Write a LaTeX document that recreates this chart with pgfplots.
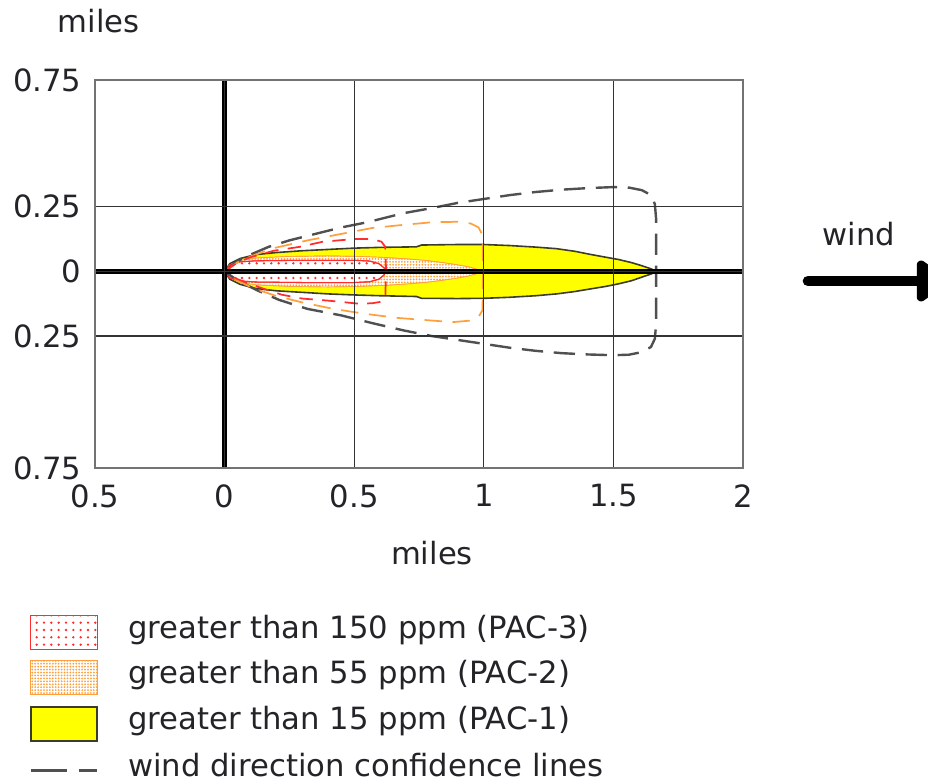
\documentclass[border=0pt]{standalone}
\usepackage{pgfplots}
\pgfplotsset{compat=1.18}
\usepackage{fontspec}
\setmainfont{DejaVu Sans}
\usetikzlibrary{patterns.meta,arrows.meta}

\definecolor{pacred}{RGB}{255,45,45}
\definecolor{pacorange}{RGB}{255,160,60}
\definecolor{confgray}{RGB}{80,80,80}
\definecolor{pacyellow}{RGB}{255,255,0}
\definecolor{outl}{RGB}{60,60,45}
\definecolor{txt}{RGB}{35,35,40}

\newcommand{\bigfont}{\fontsize{23}{27}\selectfont}

\pgfplotsset{
  pacthree/.style={draw=pacred, line width=0.9pt, fill=white,
    postaction={pattern={Dots[distance=5.5pt,radius=0.95pt]}, pattern color=pacred}},
  pactwo/.style={draw=pacorange, line width=0.9pt, fill=white,
    postaction={pattern={Dots[distance=2.2pt,radius=0.75pt]}, pattern color=pacorange}},
  pacone/.style={draw=outl, line width=1.2pt, fill=pacyellow},
  boxlegend/.style={legend image code/.code={
      \draw[##1] (0pt,-16.5pt) rectangle (50pt,9pt);
      \path (72pt,0pt);}},
  linelegend/.style={legend image code/.code={
      \draw[##1] (0pt,-3.75pt) -- (50pt,-3.75pt);
      \path (0pt,-16.5pt) (72pt,9pt);}},
}

\begin{document}
\begin{tikzpicture}
\useasboundingbox (0pt,0pt) rectangle (696pt,-588pt);
\begin{axis}[
  at={(71.25pt,-351pt)}, anchor=south west,
  scale only axis, width=486pt, height=291pt,
  xmin=-0.5, xmax=2, ymin=-0.76, ymax=0.74,
  xtick={-0.5,0,0.5,1,1.5,2},
  xticklabels={0.5,0,0.5,1,1.5,2},
  ytick={-0.76,-0.25,0,0.25,0.74},
  yticklabels={0.75,0.25,0,0.25,0.75},
  major tick length=0pt,
  grid=major,
  grid style={line width=0.9pt, color=black!80},
  axis line style={line width=1.2pt, color=black!55},
  axis on top,
  tick label style={font=\bigfont, text=txt},
  xticklabel style={anchor=north, inner sep=0pt, yshift=-12pt},
  yticklabel style={anchor=east, inner sep=0pt, xshift=-10pt},
  xlabel={miles}, ylabel={miles},
  every axis x label/.style={at={(axis description cs:0.52,-0.219)}, anchor=center, font=\bigfont, text=txt},
  every axis y label/.style={at={(axis description cs:0.0054,1.152)}, anchor=center, font=\bigfont, text=txt},
  legend style={at={(axis description cs:-0.1019,-0.3785)}, anchor=north west,
    draw=none, fill=none, inner sep=0pt, outer sep=0pt, row sep=7.6pt,
    font=\bigfont, text=txt, nodes={inner sep=0pt}},
  legend cell align=left,
]
% legend entries
\addlegendimage{boxlegend, pacthree}
\addlegendentry{greater than 150 ppm (PAC-3)}
\addlegendimage{boxlegend, pactwo}
\addlegendentry{greater than 55 ppm (PAC-2)}
\addlegendimage{boxlegend, pacone, line width=1.6pt}
\addlegendentry{greater than 15 ppm (PAC-1)}
\addlegendimage{linelegend, confgray, line width=2.4pt, dash pattern=on 27pt off 9pt on 13.5pt off 20pt}
\addlegendentry{wind direction confidence lines}

% PAC-1 threat zone
\addplot[pacone, forget plot] coordinates {
(0,0) (0.02,0.03) (0.06,0.05) (0.12,0.065) (0.2,0.073) (0.3,0.08) (0.4,0.085)
(0.5,0.09) (0.6,0.093) (0.74,0.095) (0.76,0.102) (0.9,0.104) (1.0,0.104)
(1.1,0.1) (1.2,0.094) (1.28,0.088) (1.35,0.078) (1.41,0.066) (1.47,0.055)
(1.52,0.046) (1.57,0.034) (1.61,0.022) (1.645,0.01) (1.665,0)
(1.645,-0.01) (1.61,-0.022) (1.57,-0.036) (1.52,-0.048) (1.47,-0.058)
(1.41,-0.068) (1.35,-0.078) (1.28,-0.087) (1.2,-0.094) (1.1,-0.1)
(1.0,-0.104) (0.9,-0.105) (0.76,-0.104) (0.74,-0.097) (0.6,-0.094)
(0.5,-0.091) (0.4,-0.087) (0.3,-0.081) (0.2,-0.075) (0.12,-0.066)
(0.06,-0.05) (0.02,-0.03)
} -- cycle;

% PAC-2 threat zone
\addplot[pactwo, line width=0.5pt, forget plot] coordinates {
(0,0) (0.02,0.025) (0.06,0.042) (0.12,0.052) (0.25,0.058) (0.4,0.06)
(0.52,0.058) (0.62,0.054) (0.71,0.048) (0.78,0.042) (0.835,0.035)
(0.89,0.027) (0.94,0.018) (0.975,0.008) (0.995,0)
(0.975,-0.008) (0.94,-0.018) (0.89,-0.027) (0.835,-0.035) (0.78,-0.042)
(0.71,-0.048) (0.62,-0.054) (0.52,-0.058) (0.4,-0.06) (0.25,-0.058)
(0.12,-0.052) (0.06,-0.042) (0.02,-0.025)
} -- cycle;

% PAC-3 threat zone
\addplot[pacthree, line width=0.8pt, forget plot] coordinates {
(0,0) (0.02,0.025) (0.06,0.037) (0.12,0.041) (0.3,0.043) (0.5,0.043)
(0.56,0.04) (0.595,0.03) (0.615,0.014) (0.623,0)
(0.615,-0.014) (0.595,-0.03) (0.56,-0.04) (0.5,-0.043) (0.3,-0.043)
(0.12,-0.041) (0.06,-0.037) (0.02,-0.025)
} -- cycle;

% confidence lines PAC-1
\addplot[confgray, line width=1.8pt, dash pattern=on 16pt off 8pt, forget plot] coordinates {
(0,0) (0.05,0.04) (0.1,0.065) (0.17,0.095) (0.25,0.12) (0.35,0.145)
(0.45,0.17) (0.55,0.19) (0.69,0.225) (0.8,0.245) (0.9,0.265) (1.0,0.28)
(1.1,0.295) (1.2,0.307) (1.3,0.316) (1.4,0.322) (1.5,0.326) (1.56,0.324)
(1.61,0.314) (1.645,0.295) (1.66,0.26) (1.665,0.2) (1.665,-0.2)
(1.66,-0.26) (1.645,-0.292) (1.61,-0.312) (1.56,-0.322) (1.5,-0.324)
(1.4,-0.321) (1.3,-0.316) (1.2,-0.307) (1.1,-0.295) (1.0,-0.28)
(0.9,-0.265) (0.8,-0.25) (0.69,-0.228) (0.57,-0.2) (0.45,-0.17)
(0.32,-0.145) (0.21,-0.11) (0.13,-0.075) (0.05,-0.035) (0,0)
};

% confidence lines PAC-2
\addplot[pacorange, line width=1.3pt, dash pattern=on 13pt off 8pt, forget plot] coordinates {
(0,0) (0.05,0.035) (0.1,0.058) (0.19,0.09) (0.32,0.12) (0.45,0.145)
(0.57,0.168) (0.69,0.18) (0.8,0.19) (0.9,0.192) (0.95,0.185) (0.98,0.17)
(0.995,0.14) (0.997,0) (0.995,-0.15) (0.98,-0.175) (0.95,-0.19)
(0.88,-0.196) (0.8,-0.19) (0.67,-0.18) (0.55,-0.165) (0.42,-0.145)
(0.3,-0.12) (0.2,-0.095) (0.11,-0.065) (0.05,-0.035) (0,0)
};

% confidence lines PAC-3
\addplot[pacred, line width=1.3pt, dash pattern=on 10pt off 7pt, forget plot] coordinates {
(0,0) (0.05,0.035) (0.1,0.055) (0.19,0.08) (0.29,0.095) (0.38,0.115)
(0.5,0.125) (0.57,0.125) (0.605,0.115) (0.62,0.095) (0.623,0)
(0.62,-0.1) (0.605,-0.117) (0.57,-0.123) (0.52,-0.125) (0.4,-0.113)
(0.3,-0.105) (0.22,-0.09) (0.13,-0.06) (0.05,-0.03) (0,0)
};

% heavy axes through the source
\addplot[black, line width=3.6pt, forget plot] coordinates {(-0.5,0) (2,0)};
\addplot[black, line width=3.6pt, forget plot] coordinates {(0,-0.76) (0,0.74)};
\end{axis}

\begin{scope}[x=0.75pt,y=-0.75pt]
\node[font=\bigfont, text=txt, anchor=base] at (859,246) {wind};
\draw[line width=8pt, line cap=round, -{Triangle[length=26pt,width=35pt,round]}] (808,281) -- (948,281);
\end{scope}
\end{tikzpicture}
\end{document}
